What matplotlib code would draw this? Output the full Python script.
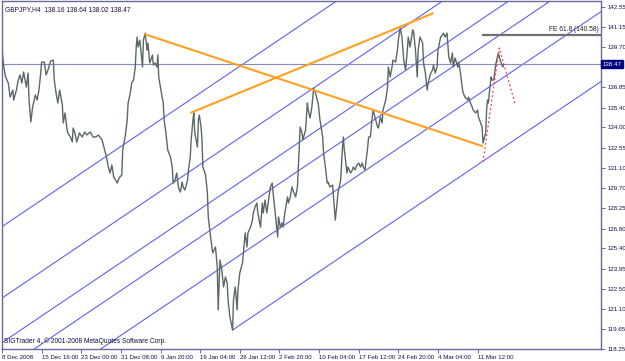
import numpy as np
import matplotlib
matplotlib.use("Agg")
import matplotlib.pyplot as plt

plt.rcParams['font.family'] = ['Liberation Sans', 'DejaVu Sans']

# GBPJPY H4 close, x = bar number from 8 Dec 2008
bars = [0, 2, 4, 7, 9, 12, 13, 16, 18, 20, 22, 24, 27, 29, 30, 32, 34, 37, 39, 41,
        43, 44, 47, 49, 51, 54, 57, 58, 60, 62, 64, 67, 68, 70, 72, 73, 76, 78, 79, 81,
        83, 86, 89, 92, 94, 98, 101, 104, 107, 111, 112, 116, 118, 120, 122, 124, 128, 130, 133, 134,
        137, 139, 140, 142, 144, 146, 148, 149, 150, 151, 153, 156, 157, 159, 161, 162, 164, 167, 168, 170,
        172, 173, 174, 177, 179, 180, 182, 184, 187, 189, 190, 192, 194, 196, 198, 200, 201, 203, 206, 207,
        209, 210, 212, 213, 214, 217, 218, 219, 221, 222, 223, 226, 228, 229, 231, 233, 234, 237, 239, 240,
        242, 244, 246, 248, 250, 251, 253, 256, 257, 259, 261, 262, 264, 267, 268, 270, 272, 273, 276, 278,
        279, 281, 283, 284, 287, 289, 290, 292, 294, 296, 298, 300, 301, 303, 306, 307, 309, 311, 312, 314,
        317, 318, 320, 322, 323, 326, 328, 329, 331, 333, 334, 337, 339, 340, 342, 344, 346, 348, 350, 351,
        353, 356, 357, 359, 361, 362, 364, 367, 368, 370, 372, 373, 376, 378, 379, 380, 381, 383, 384, 387,
        389, 390, 392, 394, 396, 398, 400, 401, 403, 406, 407, 409, 411, 412, 414, 417, 418, 420, 422, 423,
        426, 428, 429, 431, 433, 434, 437, 439, 440, 442, 444, 446, 448, 450, 451, 453, 456, 457, 459, 461,
        462, 464, 467, 468, 470, 472, 473, 476, 478, 479, 481, 483, 484, 487, 489, 490, 492, 494, 496, 498,
        500, 501, 503, 506, 507, 509, 511, 512, 514, 517, 518, 520, 522, 523, 526, 528, 529, 531, 533, 534,
        537, 538, 539, 540, 541, 543, 544, 546, 548, 550, 551, 553, 556, 557]
close = [139.57, 138.29, 137.58, 137.15, 136.15, 136.65, 135.94, 136.65, 137.36, 137.72,
         137.15, 137.93, 136.86, 137.86, 135.94, 134.38, 135.44, 136.30, 135.94, 136.65,
         137.86, 138.64, 138.64, 137.72, 138.07, 138.71, 138.78, 137.36, 136.44, 135.73,
         136.65, 135.59, 134.31, 135.02, 133.95, 133.60, 133.31, 132.96, 133.95, 133.60,
         132.96, 133.60, 133.31, 133.67, 133.45, 133.67, 133.31, 133.31, 133.45, 133.10,
         132.88, 131.89, 131.18, 130.75, 131.32, 130.47, 130.04, 130.40, 130.61, 132.39,
         133.45, 134.52, 135.73, 136.30, 137.15, 137.36, 138.29, 139.71, 140.42, 139.71,
         140.20, 138.29, 140.20, 140.70, 139.49, 139.99, 138.57, 139.14, 138.43, 138.57,
         138.29, 139.14, 137.58, 136.44, 135.73, 134.52, 133.60, 132.39, 131.89, 131.18,
         130.04, 130.25, 130.75, 129.69, 129.40, 130.11, 129.76, 129.54, 130.25, 130.97,
         131.89, 133.10, 134.52, 135.02, 133.60, 132.60, 134.52, 134.87, 134.02, 133.10,
         131.18, 130.61, 129.33, 127.63, 126.49, 125.49, 125.07, 125.49, 124.07, 121.02,
         124.57, 123.86, 122.65, 123.36, 122.93, 121.73, 120.52, 119.59, 121.73, 122.65,
         121.02, 122.44, 123.65, 124.36, 125.07, 126.49, 125.49, 126.49, 126.91, 127.41,
         127.91, 128.34, 128.62, 127.91, 126.91, 128.62, 127.91, 128.83, 127.91, 128.83,
         129.76, 130.04, 129.33, 128.12, 126.20, 127.63, 126.91, 127.20, 126.91, 127.91,
         129.05, 128.62, 129.05, 129.76, 129.54, 129.05, 129.76, 131.18, 134.02, 133.60,
         133.10, 133.81, 135.73, 135.23, 134.66, 135.44, 136.79, 136.44, 135.94, 135.73,
         134.52, 133.31, 132.17, 131.18, 130.04, 130.11, 129.76, 129.90, 129.05, 127.41,
         128.62, 129.33, 130.25, 132.60, 133.31, 132.39, 131.89, 130.75, 131.18, 130.75,
         130.97, 131.18, 130.97, 131.32, 131.46, 131.18, 131.46, 131.18, 130.97, 132.60,
         133.31, 133.31, 134.73, 135.23, 134.73, 134.02, 133.95, 134.73, 134.31, 135.23,
         135.94, 136.86, 138.29, 137.58, 138.29, 138.78, 138.64, 139.49, 140.20, 141.06,
         140.42, 138.78, 138.07, 139.49, 140.42, 139.71, 140.92, 140.77, 139.49, 137.58,
         139.49, 140.42, 139.99, 138.57, 137.86, 136.65, 137.15, 137.86, 138.07, 138.43,
         137.86, 138.29, 139.49, 140.42, 140.56, 140.70, 140.42, 140.70, 139.00, 138.57,
         139.28, 138.29, 138.93, 138.29, 138.64, 137.86, 136.79, 136.44, 136.15, 135.94,
         136.15, 135.73, 135.44, 135.23, 135.02, 135.23, 134.73, 134.38, 134.02, 132.88,
         133.60, 135.23, 135.94, 135.73, 136.44, 137.58, 137.36, 137.36, 138.43, 139.00,
         139.28, 138.78, 138.29, 138.47]

# parallel channel: price of each line at bar 0, common slope per bar
channel_start = [126.94, 121.86, 118.69, 116.70, 113.51]
channel_slope = 0.04318
ray_start_bar, ray_start_price = 256, 119.59

# orange trend lines (bar, price)
trend1_x, trend1_y = [158, 534], [140.63, 132.65]
trend2_x, trend2_y = [209, 479], [135.02, 142.12]

# dotted projection
proj_x = [534, 552, 570]
proj_y = [131.53, 139.64, 135.58]

fe_level = 140.58
fe_start = 534
last_price = 138.47

xtick_labels = ["8 Dec 2008", "15 Dec 16:00", "23 Dec 00:00", "31 Dec 08:00", "9 Jan 20:00",
                "19 Jan 04:00", "26 Jan 12:00", "2 Feb 20:00", "10 Feb 04:00", "17 Feb 12:00",
                "24 Feb 20:00", "4 Mar 04:00", "11 Mar 12:00"]
ytick_values = [142.55, 141.15, 139.70, 136.85, 135.40, 134.00, 132.55, 131.10, 129.70,
                128.25, 126.80, 125.40, 123.95, 122.50, 121.10, 119.65, 118.25]

fig = plt.figure(figsize=(6.25, 3.61), dpi=100)
ax = fig.add_axes([2 / 625, 1 - 349 / 361, 599 / 625, 348 / 361])
xmin, xmax = 0, 665
ymin, ymax = 118.24, 142.98
ax.set_xlim(xmin, xmax)
ax.set_ylim(ymin, ymax)

frame = '#6a6a9a'
navy = '#10104a'
fs = 4.8     # free texts
tfs = 4.4    # tick labels
for s in ax.spines.values():
    s.set_color(frame)
    s.set_linewidth(1.0)

# channel lines
xx = np.array([xmin, xmax])
for c in channel_start:
    ax.plot(xx, c + channel_slope * xx, color='#6060f2', lw=0.8)
xr = np.array([ray_start_bar, xmax])
ax.plot(xr, ray_start_price + channel_slope * (xr - ray_start_bar), color='#6060f2', lw=0.8)

# current price line
ax.axhline(last_price, color='#8a8ac4', lw=0.8)

# price
ax.plot(bars, close, color='#5a6867', lw=1.0)

# orange trend lines
ax.plot(trend1_x, trend1_y, color='#ffa020', lw=1.5, solid_capstyle='butt')
ax.plot(trend2_x, trend2_y, color='#ffa020', lw=1.5, solid_capstyle='butt')

# projection
ax.plot(proj_x, proj_y, color='#f04040', lw=0.9, ls=(0, (1.5, 2)))

# FE level
ax.plot([fe_start, xmax], [fe_level, fe_level], color='#707070', lw=1.6)
ax.text(xmax - 3, fe_level + 0.12, "FE 61.8 (140.58)", ha='right', va='bottom',
        fontsize=fs, color='#202020')

# ticks
ax.set_xticks(np.arange(len(xtick_labels)) * 44)
ax.set_xticklabels(xtick_labels, ha='left', fontsize=tfs, color=navy)
ax.tick_params(axis='x', direction='out', length=3, width=0.7, color=frame, pad=1)
ax.yaxis.tick_right()
ax.set_yticks(ytick_values)
ax.set_yticklabels([f"{v:.2f}" for v in ytick_values], fontsize=tfs, color=navy)
ax.tick_params(axis='y', direction='out', length=3, width=0.7, color=frame, pad=1.5)

# last price tag
ax.text(1.003, (last_price - ymin) / (ymax - ymin), f"{last_price:.2f}",
        transform=ax.transAxes, ha='left', va='center', fontsize=tfs, color='white',
        bbox=dict(boxstyle='square,pad=0.25', fc='#000080', ec='#000080'))

ax.text(0.005, 0.985, "GBPJPY,H4  138.16 138.64 138.02 138.47", transform=ax.transAxes,
        ha='left', va='top', fontsize=fs, color=navy)
ax.text(0.004, 0.012, "SIGTrader 4, \u00a9 2001-2008 MetaQuotes Software Corp.",
        transform=ax.transAxes, ha='left', va='bottom', fontsize=fs, color=navy)

fig.savefig("out.png", dpi=100)
